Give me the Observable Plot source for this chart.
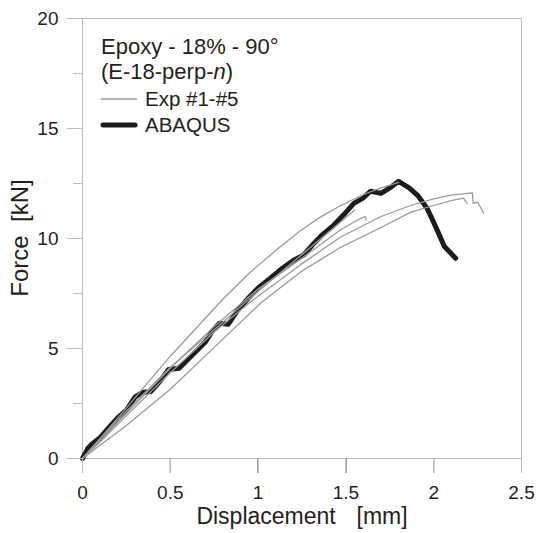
<!DOCTYPE html>
<html>
<head>
<meta charset="utf-8">
<script src="https://cdn.jsdelivr.net/npm/d3@7"></script>
<script src="https://cdn.jsdelivr.net/npm/@observablehq/plot@0.6"></script>
<style>
  html, body { margin: 0; padding: 0; background: #fff; }
  #chart svg { display: block; }
</style>
</head>
<body>
<div id="chart"></div>
<script>
// ---- data (displacement [mm], force [kN]) ----
const exp1 = [[0,0],[0.1,0.9],[0.25,2.3],[0.5,4.65],[0.8,7.25],[0.96,8.5],[1.1,9.45],[1.24,10.35],[1.35,10.95],[1.47,11.5],[1.6,12.0],[1.7,12.3],[1.8,12.55]];
const exp2 = [[0,0],[0.1,0.8],[0.25,2.05],[0.5,4.1],[0.75,6.0],[1.0,7.7],[1.24,9.05],[1.47,10.4],[1.58,10.9],[1.61,11.0],[1.615,10.85]];
const exp3 = [[0,0],[0.1,0.75],[0.25,1.95],[0.5,3.9],[0.75,5.75],[0.97,7.2],[1.24,8.8],[1.47,10.07],[1.7,11.0],[1.87,11.5],[2.0,11.8],[2.1,11.97],[2.22,12.07],[2.225,11.6],[2.25,11.65],[2.285,11.15]];
const exp4 = [[0,0],[0.1,0.6],[0.25,1.5],[0.5,3.15],[0.75,5.05],[1.02,7.1],[1.24,8.47],[1.47,9.6],[1.7,10.5],[1.87,11.2],[2.0,11.5],[2.1,11.72],[2.17,11.84],[2.19,11.6]];
const exp5 = [[0,0],[0.1,0.9],[0.25,2.15],[0.5,4.15],[0.75,5.85],[1.0,7.6],[1.24,9.2],[1.47,10.75],[1.55,11.3]];
const abaqus = [[0,0],[0.03,0.45],[0.06,0.7],[0.1,0.95],[0.15,1.4],[0.2,1.85],[0.25,2.2],[0.3,2.8],[0.34,3.0],[0.39,3.05],[0.44,3.5],[0.49,4.05],[0.55,4.1],[0.6,4.5],[0.65,4.9],[0.7,5.3],[0.74,5.8],[0.78,6.15],[0.83,6.1],[0.88,6.7],[0.94,7.25],[1.0,7.75],[1.07,8.2],[1.13,8.6],[1.2,9.0],[1.26,9.25],[1.32,9.8],[1.37,10.2],[1.43,10.6],[1.49,11.1],[1.545,11.6],[1.6,11.85],[1.64,12.15],[1.7,12.05],[1.75,12.3],[1.8,12.6],[1.86,12.3],[1.91,11.95],[1.96,11.4],[1.99,10.9],[2.03,10.2],[2.06,9.65],[2.125,9.1]];

const xTicks = [0, 0.5, 1, 1.5, 2, 2.5];
const yTicks = [0, 5, 10, 15, 20];
const yMinorTicks = [2.5, 7.5, 12.5, 17.5];

const titleLines = ["Epoxy - 18% - 90°", "(E-18-perp-", "n", ")"];
const legendLabels = ["Exp #1-#5", "ABAQUS"];
const xTitle = "Displacement  [mm]";
const yTitle = "Force  [kN]";

const expSeries = [exp1, exp2, exp3, exp4, exp5];
const expRows = expSeries.flatMap((s, i) => s.map(([x, y]) => ({id: "Exp #" + (i + 1), x, y})));
const abaRows = abaqus.map(([x, y]) => ({x, y}));

const axisGrey = "#bdbdbd";
const textCol = "#231f20";
const font = "'Liberation Sans', Arial, Helvetica, sans-serif";

const chart = Plot.plot({
  width: 540,
  height: 533,
  marginLeft: 82,
  marginRight: 19,
  marginTop: 18,
  marginBottom: 75,
  style: {fontFamily: font, background: "#fff", color: textCol},
  x: {domain: [0, 2.5], label: null},
  y: {domain: [0, 20], label: null},
  marks: [
    Plot.frame({stroke: axisGrey}),
    Plot.axisX({ticks: xTicks, tickSize: 15, tickPadding: 12, fill: textCol, fontSize: 19, label: null, tickFormat: d => String(d)}),
    Plot.axisY({ticks: yTicks, tickSize: 15, tickPadding: 9, fill: textCol, fontSize: 19, label: null, tickFormat: d => String(d)}),
    Plot.line(abaRows, {x: "x", y: "y", stroke: "#1c1c1c", strokeWidth: 5, strokeLinejoin: "round", strokeLinecap: "round"}),
    Plot.line(expRows, {x: "x", y: "y", z: "id", stroke: "#9a9a9a", strokeWidth: 1.3, strokeLinejoin: "round"})
  ]
});

document.getElementById("chart").appendChild(chart);

const svg = d3.select(chart);
const sx = chart.scale("x"), sy = chart.scale("y");
const x0 = sx.apply(0), y0 = sy.apply(0);

// tick marks drawn through the plot's scales
const tg = svg.append("g").attr("stroke", axisGrey).attr("stroke-width", 1).attr("shape-rendering", "crispEdges");
xTicks.forEach(v => {
  const px = Math.round(sx.apply(v)) + 0.5;
  tg.append("line").attr("x1", px).attr("x2", px).attr("y1", y0).attr("y2", y0 + 15);
});
yTicks.forEach(v => {
  const py = Math.round(sy.apply(v)) + 0.5;
  tg.append("line").attr("x1", x0 - 15).attr("x2", x0).attr("y1", py).attr("y2", py);
});
yMinorTicks.forEach(v => {
  const py = Math.round(sy.apply(v)) + 0.5;
  tg.append("line").attr("x1", x0 - 9).attr("x2", x0).attr("y1", py).attr("y2", py);
});

// axis titles
svg.append("text")
  .attr("x", 302).attr("y", 524)
  .attr("text-anchor", "middle")
  .attr("font-family", font).attr("font-size", 23)
  .attr("fill", textCol)
  .style("white-space", "pre").style("word-spacing", "4px")
  .text(xTitle);

svg.append("text")
  .attr("transform", "translate(28,238) rotate(-90)")
  .attr("text-anchor", "middle")
  .attr("font-family", font).attr("font-size", 24)
  .attr("fill", textCol)
  .style("white-space", "pre")
  .text(yTitle);

// legend / annotation
const lg = svg.append("g").attr("font-family", font).attr("fill", textCol).attr("text-anchor", "start");
lg.append("text").attr("x", 101).attr("y", 54).attr("font-size", 22).text(titleLines[0]);
const t2 = lg.append("text").attr("x", 101).attr("y", 79).attr("font-size", 22);
t2.append("tspan").text(titleLines[1]);
t2.append("tspan").attr("font-style", "italic").text(titleLines[2]);
t2.append("tspan").text(titleLines[3]);

lg.append("line").attr("x1", 101).attr("x2", 137).attr("y1", 99).attr("y2", 99)
  .attr("stroke", "#9a9a9a").attr("stroke-width", 1.3);
lg.append("text").attr("x", 145).attr("y", 106).attr("font-size", 20.5).text(legendLabels[0]);

lg.append("line").attr("x1", 103).attr("x2", 135).attr("y1", 125).attr("y2", 125)
  .attr("stroke", "#1c1c1c").attr("stroke-width", 5).attr("stroke-linecap", "round");
lg.append("text").attr("x", 145).attr("y", 132).attr("font-size", 20.5).text(legendLabels[1]);
</script>
</body>
</html>
